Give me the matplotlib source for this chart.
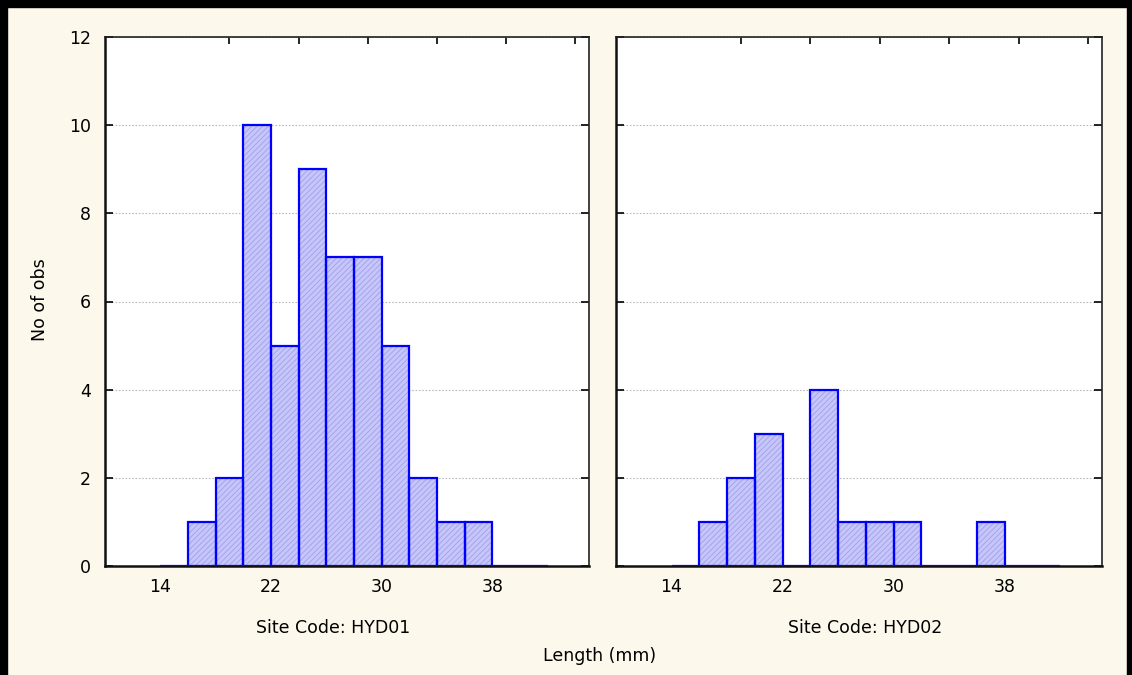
import matplotlib
matplotlib.use("Agg")
import matplotlib.pyplot as plt
from matplotlib.patches import Rectangle

# ---- data ----
bin_edges = [14, 16, 18, 20, 22, 24, 26, 28, 30, 32, 34, 36, 38, 40]  # left edges, width 2
counts_hyd01 = [0, 1, 2, 10, 5, 9, 7, 7, 5, 2, 1, 1, 0, 0]
counts_hyd02 = [0, 1, 2, 3, 0, 4, 1, 1, 1, 0, 0, 1, 0, 0]
panel_titles = ["Site Code: HYD01", "Site Code: HYD02"]
xtick_vals = [14, 22, 30, 38]
top_ticks = [14, 19, 24, 29, 34, 39, 44]
ytick_vals = [0, 2, 4, 6, 8, 10, 12]
bin_width = 2

plt.rcParams['font.family'] = ['DejaVu Sans']
plt.rcParams['hatch.linewidth'] = 0.6
plt.rcParams['hatch.color'] = '#a0a0ea'

cream = '#fdf8ec'
fig = plt.figure(figsize=(11.32, 6.75), dpi=100, facecolor=cream)

W, H = 1132, 675
def ax_rect(x0, x1, y0, y1):
    return [x0 / W, (H - y1) / H, (x1 - x0) / W, (y1 - y0) / H]

axes = [fig.add_axes(ax_rect(105, 589, 37, 566)),
        fig.add_axes(ax_rect(616, 1102, 37, 566))]

for i, (ax, counts) in enumerate(zip(axes, [counts_hyd01, counts_hyd02])):
    ax.set_facecolor('white')
    ax.set_xlim(10, 45)
    ax.set_ylim(0, 12)
    # hatch fill
    ax.bar(bin_edges, counts, width=bin_width, align='edge',
           color='#c6c6fa', edgecolor='#a0a0ea', hatch='//////', linewidth=0, zorder=2)
    # outlines
    ax.bar(bin_edges, counts, width=bin_width, align='edge',
           fill=False, edgecolor='#0000ff', linewidth=1.6, zorder=3)
    ax.set_yticks(ytick_vals)
    ax.yaxis.grid(True, linestyle=(0, (1.5, 1.5)), color='#bbbbbb', linewidth=0.8, zorder=0)
    ax.set_axisbelow(True)
    ax.set_xticks(xtick_vals)
    ax.set_xticklabels([str(v) for v in xtick_vals], fontsize=12.5)
    ax.tick_params(axis='x', which='major', length=0, pad=9, bottom=True, top=False)
    ax.set_xticks(top_ticks, minor=True)
    ax.tick_params(axis='x', which='minor', top=True, bottom=False, direction='in', length=5, width=1.2)
    ax.tick_params(axis='y', direction='in', length=6, width=1.2, left=True, right=True,
                   labelsize=12.5, pad=10)
    if i == 1:
        ax.tick_params(axis='y', labelleft=False)
    for side in ['left', 'bottom']:
        ax.spines[side].set_linewidth(1.8)
        ax.spines[side].set_color('#111111')
    for side in ['top', 'right']:
        ax.spines[side].set_linewidth(1.2)
        ax.spines[side].set_color('#222222')

fig.text(333 / W, 1 - 628 / H, panel_titles[0], ha='center', va='center', fontsize=12.5)
fig.text(865 / W, 1 - 628 / H, panel_titles[1], ha='center', va='center', fontsize=12.5)
fig.text(600 / W, 1 - 656 / H, "Length (mm)", ha='center', va='center', fontsize=12.5)
fig.text(40 / W, 1 - 300 / H, "No of obs", ha='center', va='center', rotation=90, fontsize=12.5)

# black frame on left, top, right
fig.patches.append(Rectangle((0, 0), 7 / W, 1, transform=fig.transFigure, color='black', zorder=10))
fig.patches.append(Rectangle((0, 1 - 7 / H), 1, 7 / H, transform=fig.transFigure, color='black', zorder=10))
fig.patches.append(Rectangle((1 - 5 / W, 0), 5 / W, 1, transform=fig.transFigure, color='black', zorder=10))

fig.savefig('out.png', dpi=100, facecolor=cream)
